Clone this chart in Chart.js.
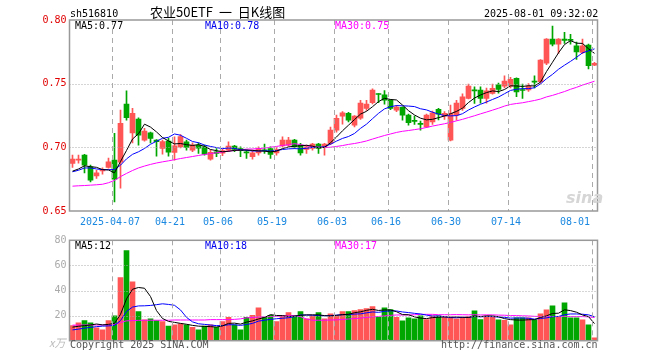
<!DOCTYPE html>
<html lang="zh-CN">
<head>
  <meta charset="UTF-8" />
  <title>农业50ETF 日K线图</title>
  <script src="https://cdn.jsdelivr.net/npm/chart.js"></script>
  <style>
    body { margin: 0; width: 660px; height: 360px; background: #fff; position: relative; overflow: hidden;
           font-family: 'DejaVu Sans Mono', monospace; font-size: 10px; }
    canvas { position: absolute; left: 0; }
    .t { position: absolute; line-height: 12px; white-space: pre; }
  </style>
</head>
<body>
  <canvas id="kline" width="660" height="231" style="top:0"></canvas>
  <canvas id="vol" width="660" height="130" style="top:230px"></canvas>

  <div class="t" style="left:70px;top:8px">sh516810</div>
  <div class="t" style="left:150px;top:5px;font:13px/13px 'Noto Sans CJK SC',sans-serif;word-spacing:3px">农业50ETF 一 日K线图</div>
  <div class="t" style="left:484px;top:8px">2025-08-01 09:32:02</div>

  <div class="t" style="left:75px;top:20px;color:#000">MA5:0.77</div>
  <div class="t" style="left:205px;top:20px;color:#0000ee">MA10:0.78</div>
  <div class="t" style="left:335px;top:20px;color:#ff00ff">MA30:0.75</div>

  <div class="t" style="left:75px;top:240px;color:#000">MA5:12</div>
  <div class="t" style="left:205px;top:240px;color:#0000ee">MA10:18</div>
  <div class="t" style="left:335px;top:240px;color:#ff00ff">MA30:17</div>

  <div class="t" style="left:566px;top:188px;font:italic bold 16px 'DejaVu Sans',sans-serif;color:#d6d6d6">sina</div>
  <div class="t" style="left:49px;top:334px;font:italic 11px 'Noto Sans CJK SC',sans-serif;color:#bbb">x万</div>
  <div class="t" style="left:70px;top:339px;color:#555">Copyright 2025 SINA.COM</div>
  <div class="t" style="left:441px;top:339px;color:#555">http://finance.sina.com.cn</div>

  <script>
    // trading days, 2025
    const dates = ['03-26','03-27','03-28','03-31','04-01','04-02','04-03','04-07','04-08','04-09',
      '04-10','04-11','04-14','04-15','04-16','04-17','04-18','04-21','04-22','04-23',
      '04-24','04-25','04-28','04-29','04-30','05-06','05-07','05-08','05-09','05-12',
      '05-13','05-14','05-15','05-16','05-19','05-20','05-21','05-22','05-23','05-26',
      '05-27','05-28','05-29','05-30','06-03','06-04','06-05','06-06','06-09','06-10',
      '06-11','06-12','06-13','06-16','06-17','06-18','06-19','06-20','06-23','06-24',
      '06-25','06-26','06-27','06-30','07-01','07-02','07-03','07-04','07-07','07-08',
      '07-09','07-10','07-11','07-14','07-15','07-16','07-17','07-18','07-21','07-22',
      '07-23','07-24','07-25','07-28','07-29','07-30','07-31','08-01'];
    const axisDates = ['2025-04-07','04-21','05-06','05-19','06-03','06-16','06-30','07-14','08-01'];
    const priceTicks = [0.65, 0.70, 0.75, 0.80];
    const volTicks = [0, 20, 40, 60, 80];

    const open = [0.6873,0.6900,0.6939,0.6847,0.6776,0.6815,0.6843,0.6900,0.6884,0.7340,
      0.7114,0.7222,0.7057,0.7114,0.7057,0.6992,0.7050,0.6960,0.7004,0.7043,
      0.6978,0.7017,0.7004,0.6907,0.6965,0.6955,0.6978,0.7009,0.6991,0.6965,
      0.6926,0.6957,0.6978,0.6991,0.6957,0.7012,0.7017,0.7057,0.7017,0.6983,
      0.6991,0.7025,0.7004,0.7031,0.7134,0.7245,0.7267,0.7175,0.7230,0.7306,
      0.7350,0.7422,0.7412,0.7371,0.7292,0.7314,0.7253,0.7212,0.7186,0.7161,
      0.7200,0.7298,0.7245,0.7057,0.7253,0.7306,0.7385,0.7450,0.7450,0.7385,
      0.7424,0.7490,0.7481,0.7481,0.7542,0.7450,0.7450,0.7518,0.7515,0.7660,
      0.7850,0.7811,0.7850,0.7845,0.7798,0.7746,0.7803,0.7646];
    const high = [0.6939,0.6940,0.6945,0.6860,0.6820,0.6840,0.6915,0.7110,0.7292,0.7444,
      0.7306,0.7232,0.7150,0.7120,0.7060,0.7057,0.7072,0.7083,0.7100,0.7057,
      0.7036,0.7036,0.7017,0.6978,0.6991,0.6985,0.7043,0.7015,0.7004,0.6978,
      0.6978,0.7004,0.7025,0.7004,0.6999,0.7083,0.7078,0.7062,0.7031,0.7017,
      0.7031,0.7031,0.7031,0.7160,0.7253,0.7280,0.7275,0.7250,0.7370,0.7370,
      0.7460,0.7422,0.7445,0.7375,0.7330,0.7318,0.7261,0.7245,0.7206,0.7261,
      0.7285,0.7306,0.7280,0.7332,0.7370,0.7420,0.7497,0.7475,0.7475,0.7465,
      0.7497,0.7505,0.7561,0.7550,0.7545,0.7497,0.7500,0.7561,0.7690,0.7855,
      0.7953,0.7855,0.7903,0.7888,0.7826,0.7850,0.7810,0.7668];
    const low = [0.6842,0.6875,0.6800,0.6729,0.6755,0.6790,0.6837,0.6572,0.6680,0.7214,
      0.7035,0.7017,0.7049,0.7035,0.6931,0.6947,0.6931,0.6900,0.6995,0.6978,
      0.6965,0.6952,0.6939,0.6899,0.6926,0.6935,0.6965,0.6965,0.6926,0.6913,
      0.6907,0.6939,0.6952,0.6913,0.6939,0.7004,0.7009,0.6991,0.6939,0.6952,
      0.6978,0.6952,0.6939,0.7020,0.7120,0.7182,0.7200,0.7160,0.7220,0.7290,
      0.7340,0.7350,0.7338,0.7295,0.7280,0.7214,0.7175,0.7180,0.7135,0.7155,
      0.7180,0.7216,0.7220,0.7051,0.7214,0.7290,0.7380,0.7345,0.7347,0.7347,
      0.7418,0.7425,0.7466,0.7466,0.7397,0.7384,0.7440,0.7466,0.7503,0.7650,
      0.7797,0.7738,0.7817,0.7810,0.7691,0.7735,0.7615,0.7641];
    const close = [0.6907,0.6905,0.6860,0.6742,0.6800,0.6820,0.6886,0.6750,0.7188,0.7233,
      0.7267,0.7096,0.7127,0.7070,0.7045,0.7045,0.6962,0.7012,0.7085,0.6999,
      0.7017,0.6993,0.6947,0.6960,0.6952,0.6975,0.7009,0.6983,0.6973,0.6957,
      0.6957,0.6991,0.6973,0.6944,0.6983,0.7057,0.7057,0.7004,0.6957,0.7004,
      0.7025,0.6991,0.7025,0.7135,0.7227,0.7270,0.7214,0.7245,0.7347,0.7340,
      0.7450,0.7415,0.7371,0.7306,0.7316,0.7253,0.7193,0.7203,0.7180,0.7253,
      0.7270,0.7261,0.7267,0.7267,0.7347,0.7397,0.7481,0.7443,0.7385,0.7444,
      0.7463,0.7455,0.7521,0.7534,0.7436,0.7446,0.7481,0.7512,0.7686,0.7850,
      0.7811,0.7850,0.7840,0.7840,0.7750,0.7798,0.7641,0.7660];

    const ma5 = [0.6813,0.6830,0.6855,0.6848,0.6843,0.6825,0.6822,0.6800,0.6889,0.6975,
      0.7065,0.7107,0.7182,0.7159,0.7121,0.7077,0.7050,0.7027,0.7030,0.7021,
      0.7015,0.7021,0.7008,0.6983,0.6974,0.6965,0.6969,0.6976,0.6978,0.6979,
      0.6976,0.6972,0.6970,0.6964,0.6970,0.6990,0.7003,0.7009,0.7012,0.7016,
      0.7009,0.6996,0.7000,0.7036,0.7081,0.7130,0.7174,0.7218,0.7261,0.7283,
      0.7319,0.7359,0.7385,0.7376,0.7372,0.7332,0.7288,0.7254,0.7229,0.7216,
      0.7220,0.7233,0.7246,0.7264,0.7282,0.7308,0.7352,0.7387,0.7411,0.7430,
      0.7443,0.7438,0.7454,0.7483,0.7482,0.7478,0.7484,0.7482,0.7512,0.7595,
      0.7668,0.7742,0.7807,0.7838,0.7818,0.7816,0.7774,0.7738];
    const ma10 = [0.6808,0.6820,0.6838,0.6838,0.6830,0.6825,0.6825,0.6825,0.6860,0.6909,
      0.6945,0.6965,0.6991,0.7024,0.7048,0.7071,0.7079,0.7105,0.7095,0.7071,
      0.7046,0.7036,0.7018,0.7007,0.6998,0.6990,0.6995,0.6992,0.6981,0.6977,
      0.6971,0.6971,0.6973,0.6971,0.6975,0.6983,0.6988,0.6990,0.6988,0.6993,
      0.7000,0.7000,0.7005,0.7024,0.7049,0.7070,0.7085,0.7109,0.7149,0.7182,
      0.7225,0.7267,0.7302,0.7319,0.7328,0.7326,0.7324,0.7320,0.7303,0.7294,
      0.7276,0.7261,0.7250,0.7247,0.7249,0.7264,0.7293,0.7317,0.7338,0.7356,
      0.7376,0.7395,0.7421,0.7447,0.7456,0.7461,0.7461,0.7468,0.7498,0.7539,
      0.7573,0.7613,0.7645,0.7675,0.7707,0.7742,0.7758,0.7773];
    const ma30 = [0.6695,0.6698,0.6700,0.6703,0.6706,0.6710,0.6722,0.6740,0.6770,0.6795,
      0.6818,0.6838,0.6853,0.6866,0.6877,0.6886,0.6894,0.6903,0.6912,0.6920,
      0.6928,0.6936,0.6944,0.6951,0.6957,0.6963,0.6970,0.6975,0.6980,0.6986,
      0.6987,0.6990,0.6994,0.7001,0.7007,0.7015,0.7020,0.7029,0.7021,0.7013,
      0.7005,0.7002,0.6998,0.7001,0.7007,0.7014,0.7023,0.7030,0.7039,0.7050,
      0.7065,0.7079,0.7093,0.7105,0.7117,0.7126,0.7132,0.7139,0.7146,0.7156,
      0.7167,0.7176,0.7185,0.7196,0.7208,0.7220,0.7234,0.7248,0.7263,0.7277,
      0.7292,0.7307,0.7324,0.7337,0.7344,0.7350,0.7359,0.7368,0.7379,0.7396,
      0.7408,0.7423,0.7438,0.7456,0.7471,0.7489,0.7504,0.7519];

    // volume, 万
    const volume = [12.0,14.2,16.0,14.2,10.2,8.6,16.0,19.8,50.2,71.8,
      47.0,23.2,16.6,17.4,16.0,15.2,11.7,12.6,13.4,12.6,
      10.7,8.6,11.7,12.6,10.7,15.2,18.7,12.6,8.6,18.7,
      20.3,26.2,18.7,20.3,15.2,19.8,22.4,20.3,23.2,17.4,
      19.8,22.4,17.4,21.4,19.8,23.2,23.2,24.0,24.8,25.6,
      27.2,18.7,26.2,24.8,18.7,15.8,18.2,17.4,19.8,16.8,
      19.8,19.8,18.7,18.7,17.4,18.7,19.2,23.8,16.8,19.8,
      18.7,16.6,16.3,12.6,18.2,18.2,18.2,16.6,21.4,24.6,
      27.8,19.2,30.2,18.2,18.2,16.6,12.6,2.2];
    const vma5 = [10.8,11.5,12.0,12.5,13.3,12.6,13.0,13.8,21.0,33.3,
      41.0,42.4,41.8,35.2,24.0,17.7,15.4,14.6,13.8,13.1,
      12.2,11.6,11.4,11.2,10.9,11.8,13.8,14.0,13.2,14.8,
      15.8,17.3,18.5,20.8,20.1,20.0,19.3,19.6,20.2,20.6,
      20.6,20.6,20.0,19.7,20.2,20.8,21.0,22.3,23.0,24.2,
      25.0,24.1,24.5,24.5,23.1,20.8,20.7,19.0,18.0,17.6,
      18.4,18.7,19.0,18.8,18.9,18.7,18.5,19.6,19.2,19.7,
      19.7,19.1,17.6,16.8,16.5,16.4,16.7,16.8,18.5,19.8,
      21.7,21.9,24.6,24.0,22.7,20.5,19.2,13.6];
    const vma10 = [8.6,9.2,10.0,10.6,11.2,11.6,11.8,12.2,16.0,23.3,
      26.8,27.7,27.8,28.1,28.7,29.4,28.9,28.2,24.5,18.6,
      15.0,13.5,13.0,12.5,12.0,12.0,12.7,12.7,12.2,12.9,
      13.8,15.6,16.3,17.0,17.5,17.9,18.3,19.1,20.5,20.4,
      20.3,20.0,19.8,20.0,20.4,20.7,20.8,21.2,21.4,22.2,
      22.9,22.6,23.4,23.8,23.7,22.9,22.4,21.8,21.3,20.4,
      19.6,19.7,19.0,18.4,18.3,18.6,18.6,19.3,19.0,19.3,
      19.2,18.8,18.6,18.0,18.1,18.1,17.9,17.2,17.7,18.2,
      19.1,19.3,20.7,21.3,21.3,21.1,20.6,19.1];
    const vma30 = [12.4,12.4,12.5,12.5,12.5,12.5,12.6,13.0,14.5,15.8,
      16.0,16.2,16.3,16.3,16.3,16.3,16.3,16.5,16.5,16.5,
      16.5,16.5,16.5,16.8,16.8,16.8,16.8,17.0,17.4,18.2,
      18.5,18.9,19.0,19.2,19.4,19.7,20.0,20.0,19.1,17.3,
      16.3,16.3,16.3,16.5,16.6,16.9,17.3,17.6,18.0,18.5,
      19.0,19.3,19.8,20.2,20.5,20.5,20.5,20.7,21.0,21.0,
      21.0,20.7,20.7,20.7,20.8,20.7,20.6,20.7,20.5,20.6,
      20.6,20.4,20.3,20.0,20.0,19.8,19.7,19.4,19.3,19.3,
      19.3,19.3,19.4,19.2,19.2,19.2,19.0,18.5];

    const RED = '#ff5555';
    const GREEN = '#00a600';
    const candleColor = ctx => close[ctx.dataIndex] >= open[ctx.dataIndex] ? RED : GREEN;

    Chart.defaults.font.family = "'DejaVu Sans Mono', monospace";
    Chart.defaults.font.size = 10;

    function dateLabel(i) {
      const hit = axisDates.find(d => d.endsWith(dates[i]));
      if (!hit) return '';
      // last label is pushed left so it stays inside the frame
      return i === dates.length - 1 ? hit + '     ' : hit;
    }

    // dashed date lines, dotted level lines and the gray frame, placed with the chart's own scales
    function guides(levels) {
      return {
        id: 'guides',
        afterDatasetsDraw(chart) {
          const { ctx, chartArea: a, scales: { x, y } } = chart;
          const step = x.getPixelForTick(1) - x.getPixelForTick(0);
          ctx.save();
          ctx.strokeStyle = '#aaa';
          ctx.lineWidth = 1;
          ctx.setLineDash([5, 4]);
          dates.forEach((d, i) => {
            if (!dateLabel(i)) return;
            const px = Math.round(x.getPixelForTick(i) - step / 2) + 0.5;
            ctx.beginPath();
            ctx.moveTo(px, a.top);
            ctx.lineTo(px, a.bottom);
            ctx.stroke();
          });
          ctx.setLineDash([1, 2]);
          levels.forEach(v => {
            const py = Math.round(y.getPixelForValue(v)) + 0.5;
            ctx.beginPath();
            ctx.moveTo(a.left, py);
            ctx.lineTo(a.right, py);
            ctx.stroke();
          });
          ctx.setLineDash([]);
          ctx.strokeStyle = '#999';
          ctx.lineWidth = 1.5;
          ctx.strokeRect(a.left, a.top, a.right - a.left, a.bottom - a.top);
          ctx.restore();
        }
      };
    }

    function maLine(data, color) {
      return { type: 'line', data, borderColor: color, borderWidth: 1, pointRadius: 0, fill: false, tension: 0, order: 0 };
    }

    const xScale = (showLabels) => ({
      type: 'category',
      offset: true,
      afterFit: s => { s.height = showLabels ? 20 : 0; },
      border: { display: false },
      grid: { display: false, drawTicks: false },
      ticks: {
        display: showLabels, autoSkip: false, maxRotation: 0, padding: 5, labelOffset: -4.5,
        color: '#1a88e0',
        callback: (v, i) => dateLabel(i)
      }
    });

    new Chart(document.getElementById('kline'), {
      type: 'bar',
      data: {
        labels: dates,
        datasets: [
          { data: dates.map((d, i) => [low[i], high[i]]), backgroundColor: candleColor, barThickness: 1, grouped: false, order: 2 },
          { data: dates.map((d, i) => [open[i], close[i]]), backgroundColor: candleColor, barThickness: 5, minBarLength: 1, grouped: false, order: 1 },
          maLine(ma5, '#000000'),
          maLine(ma10, '#0000ff'),
          maLine(ma30, '#ff00ff')
        ]
      },
      options: {
        responsive: false,
        animation: false,
        devicePixelRatio: 1,
        events: [],
        layout: { padding: { left: 0, right: 62.5, top: 20, bottom: 0 } },
        plugins: { legend: { display: false }, tooltip: { enabled: false } },
        scales: {
          x: xScale(true),
          y: {
            min: priceTicks[0], max: priceTicks[priceTicks.length - 1],
            afterFit: s => { s.width = 69.5; },
            border: { display: false },
            grid: { display: false, drawTicks: false },
            afterBuildTicks: s => { s.ticks = priceTicks.map(v => ({ value: v })); },
            ticks: { padding: 3, color: '#e00000', callback: v => v.toFixed(2) }
          }
        }
      },
      plugins: [guides(priceTicks.slice(1, -1))]
    });

    new Chart(document.getElementById('vol'), {
      type: 'bar',
      data: {
        labels: dates,
        datasets: [
          { data: volume, backgroundColor: candleColor, barThickness: 5, grouped: false, order: 1 },
          maLine(vma5, '#000000'),
          maLine(vma10, '#0000ff'),
          maLine(vma30, '#ff00ff')
        ]
      },
      options: {
        responsive: false,
        animation: false,
        devicePixelRatio: 1,
        events: [],
        layout: { padding: { left: 0, right: 62.5, top: 10.3, bottom: 19.3 } },
        plugins: { legend: { display: false }, tooltip: { enabled: false } },
        scales: {
          x: xScale(false),
          y: {
            min: volTicks[0], max: volTicks[volTicks.length - 1],
            afterFit: s => { s.width = 69.5; },
            border: { display: false },
            grid: { display: false, drawTicks: false },
            afterBuildTicks: s => { s.ticks = volTicks.map(v => ({ value: v })); },
            ticks: { padding: 3, color: '#aaa', callback: v => v === 0 ? '' : v }
          }
        }
      },
      plugins: [guides(volTicks.slice(1, -1))]
    });
  </script>
</body>
</html>
